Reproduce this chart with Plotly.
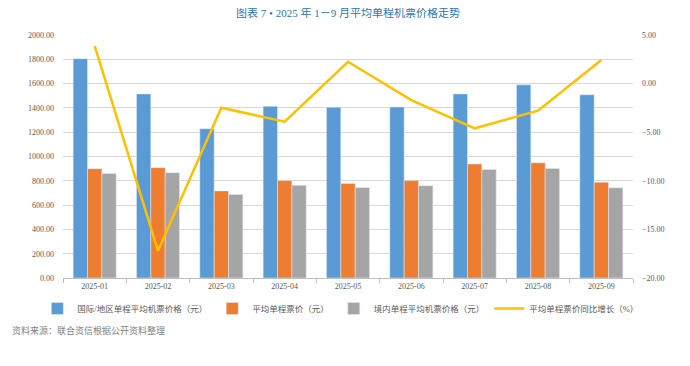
import plotly.graph_objects as go

months = ["2025-01", "2025-02", "2025-03", "2025-04", "2025-05", "2025-06", "2025-07", "2025-08", "2025-09"]
intl_price = [1805, 1515, 1228, 1413, 1405, 1408, 1515, 1590, 1508]
avg_price = [900, 908, 717, 802, 778, 802, 938, 948, 788]
domestic_price = [860, 867, 688, 763, 745, 760, 894, 902, 742]
yoy_growth = [3.87, -17.2, -2.48, -3.92, 2.25, -1.69, -4.6, -2.79, 2.43]

serif = "Times New Roman, Liberation Serif, Noto Sans CJK SC, serif"
tick_font = dict(family=serif, size=8, color="#595959")

fig = go.Figure()
fig.add_trace(go.Bar(x=months, y=intl_price, name="国际/地区单程平均机票价格（元）",
                     marker_color="#5B9BD5"))
fig.add_trace(go.Bar(x=months, y=avg_price, name="平均单程票价（元）",
                     marker_color="#ED7D31"))
fig.add_trace(go.Bar(x=months, y=domestic_price, name="境内单程平均机票价格（元）",
                     marker_color="#A5A5A5"))
fig.add_trace(go.Scatter(x=months, y=yoy_growth, name="平均单程票价同比增长（%）",
                         mode="lines", line=dict(color="#FFC000", width=2.5), yaxis="y2"))

fig.update_layout(
    width=682, height=358,
    margin=dict(l=55, r=57, t=27, b=88),
    paper_bgcolor="white", plot_bgcolor="white",
    barmode="group", bargap=0.32, bargroupgap=0,
    title=dict(text="图表 7 • 2025 年 1－9 月平均单程机票价格走势",
               x=0.5, xanchor="center", xref="paper", y=1 - 5 / 358, yref="container",
               yanchor="middle",
               font=dict(family=serif, size=11, color="#2E75B6")),
    xaxis=dict(type="category", showgrid=False, showline=True, linecolor="#BFBFBF", linewidth=1,
               ticks="outside", tickson="boundaries", ticklen=4, tickcolor="#BFBFBF",
               tickfont=tick_font, fixedrange=True),
    yaxis=dict(range=[0, 2000], dtick=200, tickformat=".2f", showgrid=True,
               gridcolor="#D9D9D9", gridwidth=1, zeroline=False, tickfont=tick_font,
               ticklabelstandoff=8),
    yaxis2=dict(range=[-20, 5], dtick=5, tickformat=".2f", overlaying="y", side="right",
                showgrid=False, zeroline=False, tickfont=tick_font, ticklabelstandoff=8),
    legend=dict(orientation="h", x=-0.045, xanchor="left", y=-0.066, yanchor="top",
                font=dict(family=serif, size=8.5, color="#595959"),
                itemwidth=30, tracegroupgap=0),
    annotations=[dict(text="资料来源：联合资信根据公开资料整理", xref="paper", yref="paper",
                      x=-53/570, y=-0.214, xanchor="left", yanchor="middle", showarrow=False,
                      font=dict(family=serif, size=9, color="#7F7F7F"))],
)

fig.write_html("out.html")
